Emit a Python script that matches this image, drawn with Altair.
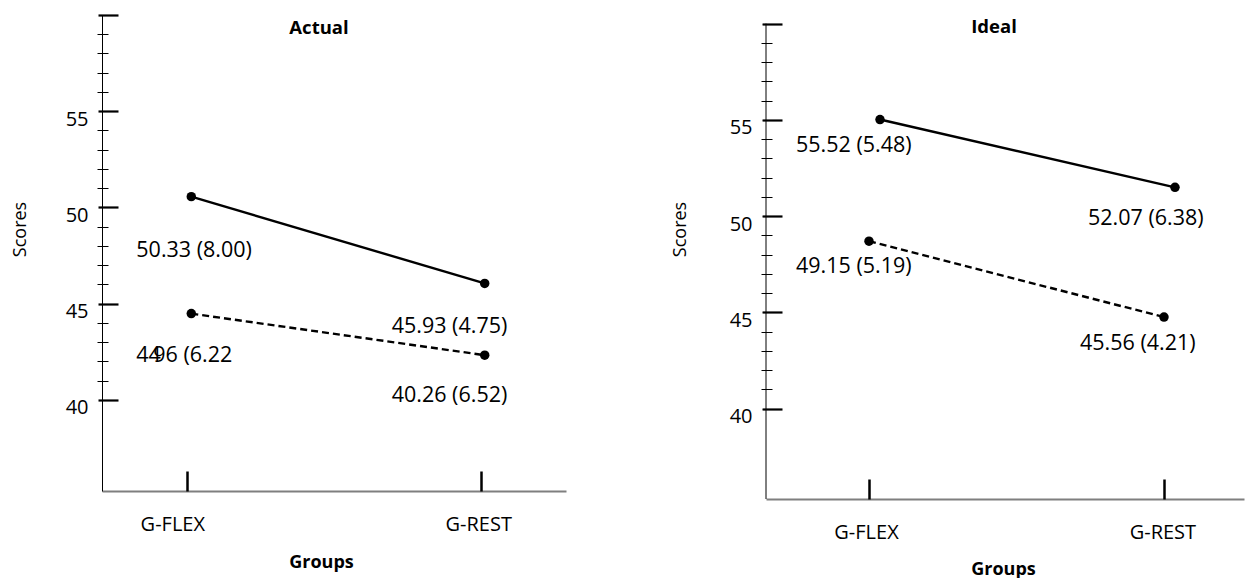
import altair as alt
import pandas as pd

# ---- data ----
groups = ["G-FLEX", "G-REST"]
actual_solid = [50.56, 46.05]
actual_dashed = [44.48, 42.32]
ideal_solid = [55.02, 51.50]
ideal_dashed = [48.70, 44.76]
actual_solid_labels = ["50.33 (8.00)", "45.93 (4.75)"]
actual_dashed_labels = ["44.96 (6.22", "40.26 (6.52)"]
ideal_solid_labels = ["55.52 (5.48)", "52.07 (6.38)"]
ideal_dashed_labels = ["49.15 (5.19)", "45.56 (4.21)"]
major_ticks = [40, 45, 50, 55, 60]
labeled_ticks = [40, 45, 50, 55]
minor_ticks = [41, 42, 43, 44, 46, 47, 48, 49, 51, 52, 53, 54, 56, 57, 58, 59]

FONT = "Open Sans"
BLACK = "#000000"
AXIS_GRAY = "#7f7f7f"


def build_panel(title, solid_vals, dashed_vals, solid_labels, dashed_labels, opt):
    df_s = pd.DataFrame({"group": groups, "value": solid_vals})
    df_d = pd.DataFrame({"group": groups, "value": dashed_vals})

    xscale = alt.Scale(domain=groups, type="point", padding=opt["xpad"], align=opt["xalign"])
    yscale = alt.Scale(domain=opt["ydomain"], nice=False, zero=False)

    x_main = alt.X("group:N", scale=xscale, sort=groups, axis=alt.Axis(
        orient="bottom",
        title="Groups", domain=True, domainColor=AXIS_GRAY, domainWidth=1.8,
        ticks=False, grid=False, labelAngle=0, labelFontSize=20, labelPadding=23,
        labelBaseline="top",
        labelOffset={"condition": {"test": "datum.value === 'G-FLEX'", "value": opt["flex_lab_off"]},
                     "value": opt["rest_lab_off"]},
        titleFontSize=18, titleFontWeight="bold", titleX=opt["xtitle_x"],
        titleY=opt["xtitle_y"], titleBaseline="middle", titleAlign="center"))
    x_ticks = alt.X("group:N", scale=xscale, sort=groups, axis=alt.Axis(
        orient="bottom",
        title=None, domain=False, labels=False, ticks=True, tickSize=20,
        tickWidth=2.5, tickColor=BLACK, offset=-20, grid=False))
    x_none = alt.X("group:N", scale=xscale, sort=groups, axis=None)

    y_main = alt.Y("value:Q", scale=yscale, axis=alt.Axis(
        orient="left",
        title="Scores", values=labeled_ticks, domain=opt["ydomain_line"],
        domainColor=BLACK, domainWidth=1, ticks=False, grid=False,
        labelFontSize=20, labelPadding=14, labelOffset=8, labelBaseline="middle",
        titleFontSize=18, titleFontWeight="normal", titleX=opt["ytitle_x"],
        titleY=opt["ytitle_y"], titleBaseline="middle", titleAlign="center"))
    y_major = alt.Y("value:Q", scale=yscale, axis=alt.Axis(
        orient="left",
        title=None, values=major_ticks, domain=False, labels=False, ticks=True,
        tickSize=20, tickWidth=2.2, tickColor=BLACK, offset=-16, grid=False))
    y_minor = alt.Y("value:Q", scale=yscale, axis=alt.Axis(
        orient="left",
        title=None, values=minor_ticks, domain=False, labels=False, ticks=True,
        tickSize=11, tickWidth=1, tickColor=BLACK, offset=-6, grid=False))
    y_none = alt.Y("value:Q", scale=yscale, axis=None)

    layers = [
        alt.Chart(df_s).mark_line(color=BLACK, strokeWidth=2.4, xOffset=opt["s_off"]).encode(x=x_main, y=y_main),
        alt.Chart(df_d).mark_line(color=BLACK, strokeWidth=2.4, strokeDash=[7, 4], xOffset=opt["d_off"]).encode(x=x_none, y=y_none),
        alt.Chart(df_s).mark_point(filled=True, color=BLACK, opacity=1, size=90, xOffset=opt["s_off"]).encode(x=x_ticks, y=y_major),
        alt.Chart(df_d).mark_point(filled=True, color=BLACK, opacity=1, size=90, xOffset=opt["d_off"]).encode(x=x_none, y=y_minor),
    ]

    if opt["rule"]:
        df_r = pd.DataFrame({"lo": [opt["ydomain"][0]], "hi": [major_ticks[-1]]})
        layers.append(
            alt.Chart(df_r).mark_rule(color=BLACK, strokeWidth=1).encode(
                x=alt.value(0), y=alt.Y("hi:Q", scale=yscale, axis=None), y2="lo:Q"))

    for ser_vals, ser_labels, specs in ((solid_vals, solid_labels, opt["s_labels"]),
                                        (dashed_vals, dashed_labels, opt["d_labels"])):
        for idx, part, dx, dy in specs:
            txt = ser_labels[idx]
            if part == 0:
                txt = txt.split(".", 1)[0]
            elif part == 1:
                txt = txt.split(".", 1)[1]
            df_t = pd.DataFrame({"group": [groups[idx]], "value": [ser_vals[idx]], "label": [txt]})
            layers.append(
                alt.Chart(df_t).mark_text(align="left", baseline="middle", fontSize=21.5,
                                          font=FONT, color=BLACK, dx=dx, dy=dy).encode(
                    x=x_none, y=y_none, text="label:N"))

    return alt.layer(*layers).resolve_axis(x="independent", y="independent").properties(
        width=opt["width"], height=opt["height"],
        title=alt.TitleParams(text=title, font=FONT, fontSize=18.5, fontWeight="bold",
                              color=BLACK, anchor="middle", frame="group",
                              baseline="middle", offset=opt["toff"], dx=opt["tdx"]))


left_opt = dict(
    width=464, height=476, ydomain=[35.26, 60], xpad=0.2907, xalign=0.5,
    s_off=4, d_off=4, flex_lab_off=-15, rest_lab_off=-2.5,
    xtitle_x=219, xtitle_y=71, ytitle_x=-82, ytitle_y=214, ydomain_line=True, rule=False,
    tdx=-15, toff=-33,
    s_labels=[(0, None, -51, 54), (1, None, -89, 44)],
    d_labels=[(0, 0, -51, 42), (0, 1, -34, 42), (1, None, -89, 40.7)],
)
right_opt = dict(
    width=478, height=484, ydomain=[35.31, 60.45], xpad=0.3102, xalign=0.5628,
    s_off=11, d_off=0, flex_lab_off=-3, rest_lab_off=-1.6,
    xtitle_x=237, xtitle_y=70, ytitle_x=-86, ytitle_y=214, ydomain_line=False, rule=True,
    tdx=-11, toff=-30,
    s_labels=[(0, None, -73, 26.7), (1, None, -76, 31.6)],
    d_labels=[(0, None, -73, 26), (1, None, -84, 26.6)],
)

left = build_panel("Actual", actual_solid, actual_dashed,
                   actual_solid_labels, actual_dashed_labels, left_opt)
right = build_panel("Ideal", ideal_solid, ideal_dashed,
                    ideal_solid_labels, ideal_dashed_labels, right_opt)

chart = alt.hconcat(left, right, spacing=105).properties(
    padding={"left": 3, "top": 5, "right": 5, "bottom": 0},
    background="white",
).configure_view(stroke=None).configure_axis(
    labelFont=FONT, titleFont=FONT, labelColor=BLACK, titleColor=BLACK
).configure_text(font=FONT)

chart.save("out.html", embed_options={"renderer": "svg", "actions": False})
